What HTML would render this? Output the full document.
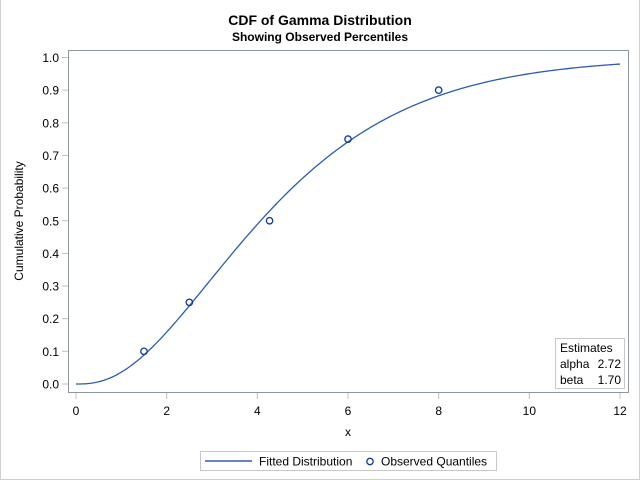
<!DOCTYPE html>
<html><head><meta charset="utf-8"><style>
html,body{margin:0;padding:0;background:#fff}
svg{display:block;font-family:"Liberation Sans",Arial,sans-serif}
</style></head><body>
<svg id="s" width="640" height="480" viewBox="0 0 640 480" xmlns="http://www.w3.org/2000/svg">
<rect x="0.5" y="-1" width="639" height="480.5" fill="#fff" stroke="#d0d0d0"/>
<text x="320" y="25" text-anchor="middle" font-size="14" font-weight="bold" fill="#000">CDF of Gamma Distribution</text>
<text x="320" y="41" text-anchor="middle" font-size="12" font-weight="bold" fill="#000">Showing Observed Percentiles</text>
<rect x="68.5" y="50.5" width="560" height="342" fill="#fff" stroke="#8f979e"/>
<g id="yt" font-size="12" fill="#000" text-anchor="end"></g>
<g id="xt" font-size="12" fill="#000" text-anchor="middle"></g>
<text x="348" y="436" text-anchor="middle" font-size="12">x</text>
<text transform="translate(23,221) rotate(-90)" text-anchor="middle" font-size="12">Cumulative Probability</text>
<path id="curve" fill="none" stroke="#2a5db0" stroke-width="1.3"/>
<g id="pts" fill="none" stroke="#0b3b9c" stroke-width="1.3"></g>
<rect x="555.5" y="338.5" width="69" height="50" fill="#fff" stroke="#c8c8c8"/>
<text x="560" y="352" font-size="12">Estimates</text>
<text x="560" y="368" font-size="12">alpha</text><text x="621" y="368" font-size="12" text-anchor="end">2.72</text>
<text x="560" y="384" font-size="12">beta</text><text x="621" y="384" font-size="12" text-anchor="end">1.70</text>
<rect x="200.5" y="451.5" width="296" height="19" fill="#fff" stroke="#c8c8c8"/>
<line x1="205" y1="461" x2="252" y2="461" stroke="#0b3b9c" stroke-width="1.3"/>
<text x="259" y="465.5" font-size="12">Fitted Distribution</text>
<circle cx="370" cy="461.5" r="3.2" fill="none" stroke="#0b3b9c" stroke-width="1.3"/>
<text x="381" y="465.5" font-size="12">Observed Quantiles</text>
</svg>
<script>
var NS="http://www.w3.org/2000/svg";
function X(v){return 76+v*45.333;}
function Y(p){return 384-p*326.5;}
function el(t,a,p){var e=document.createElementNS(NS,t);for(var k in a)e.setAttribute(k,a[k]);p.appendChild(e);return e;}
var yt=document.getElementById('yt'),xt=document.getElementById('xt');
for(var i=0;i<=10;i++){var y=Y(i/10);
 el('line',{x1:62,x2:68,y1:y,y2:y,stroke:'#c0c0c0'},yt);
 var t=el('text',{x:59,y:y+4.5},yt);t.textContent=(i/10).toFixed(1);}
for(var i=0;i<=12;i+=2){var x=X(i);
 el('line',{x1:x,x2:x,y1:393,y2:399,stroke:'#c0c0c0'},xt);
 var t=el('text',{x:x,y:415},xt);t.textContent=i;}
function lgamma(z){var g=7,c=[0.99999999999980993,676.5203681218851,-1259.1392167224028,771.32342877765313,-176.61502916214059,12.507343278686905,-0.13857109526572012,9.9843695780195716e-6,1.5056327351493116e-7];
 z-=1;var x=c[0];for(var i=1;i<9;i++)x+=c[i]/(z+i);var t=z+g+0.5;return 0.5*Math.log(2*Math.PI)+(z+0.5)*Math.log(t)-t+Math.log(x);}
function pg(a,x){if(x<=0)return 0;var s=1/a,t=1/a;for(var n=1;n<500;n++){t*=x/(a+n);s+=t;if(t<1e-14)break;}
 return s*Math.exp(-x+a*Math.log(x)-lgamma(a));}
var d='';for(var i=0;i<=240;i++){var v=i*12/240;d+=(i?'L':'M')+X(v).toFixed(2)+' '+Y(pg(2.72,v/1.70)).toFixed(2);}
document.getElementById('curve').setAttribute('d',d);
var P=[[1.5,0.1],[2.5,0.25],[4.27,0.5],[6.0,0.75],[8.0,0.9]],g=document.getElementById('pts');
P.forEach(function(p){el('circle',{cx:X(p[0]),cy:Y(p[1]),r:3.2},g);});
</script>
</body></html>
